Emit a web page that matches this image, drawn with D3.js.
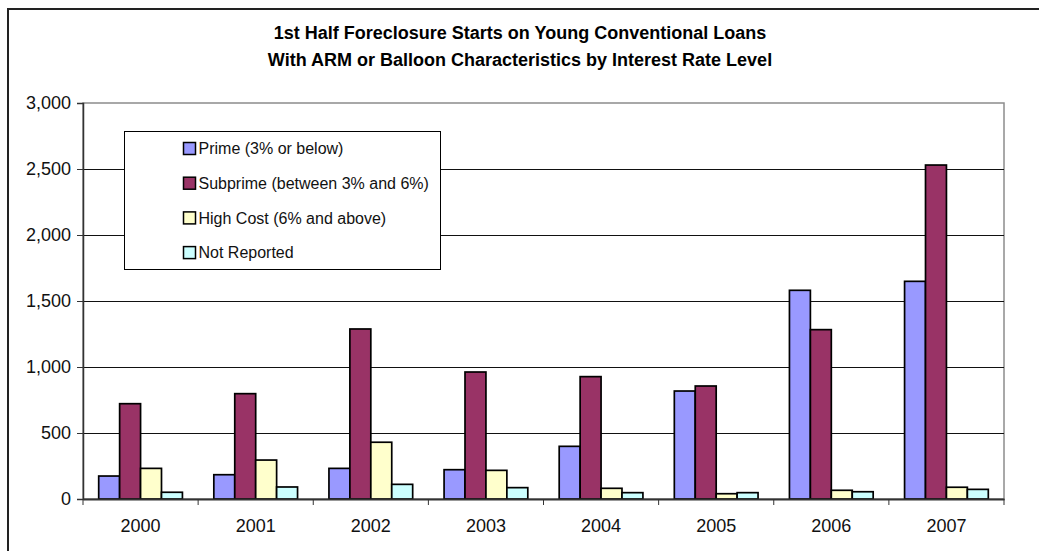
<!DOCTYPE html>
<html>
<head>
<meta charset="utf-8">
<script src="https://cdn.jsdelivr.net/npm/d3@7"></script>
<style>
  body { margin: 0; background: #fff; }
  svg { display: block; font-family: "Liberation Sans", Arial, sans-serif; }
</style>
</head>
<body>
<script>
const titleLines = ['1st Half Foreclosure Starts on Young Conventional Loans',
  'With ARM or Balloon Characteristics by Interest Rate Level']

const years = ['2000', '2001', '2002', '2003', '2004', '2005', '2006', '2007']
const seriesNames = ['Prime (3% or below)', 'Subprime (between 3% and 6%)', 'High Cost (6% and above)', 'Not Reported']
const seriesColors = ['#9999ff', '#993366', '#ffffcc', '#ccffff']

const prime = [174, 184, 232, 222, 399, 818, 1581, 1649]
const subprime = [722, 798, 1288, 962, 927, 856, 1283, 2530]
const highCost = [232, 295, 430, 217, 81, 40, 66, 89]
const notReported = [51, 91, 111, 86, 48, 48, 55, 73]
const yTicks = [0, 500, 1000, 1500, 2000, 2500, 3000]

const seriesValues = [prime, subprime, highCost, notReported]

const width = 1039
const height = 551
const margin = { top: 103, right: 35, bottom: 52, left: 83 }
const innerWidth = width - margin.left - margin.right
const innerHeight = height - margin.top - margin.bottom

const svg = d3.select('body').append('svg')
  .attr('width', width)
  .attr('height', height)

// outer chart frame (runs off the right and bottom of the picture)
svg.append('rect')
  .attr('x', 8).attr('y', 9)
  .attr('width', 1100).attr('height', 1000)
  .attr('fill', 'none')
  .attr('stroke', '#222')
  .attr('stroke-width', 2)

// title
svg.append('g')
  .selectAll('text')
  .data(titleLines)
  .enter()
  .append('text')
  .attr('x', 520)
  .attr('y', (d, i) => 39 + i * 27)
  .attr('text-anchor', 'middle')
  .attr('font-size', 18)
  .attr('font-weight', 'bold')
  .text(d => d)

const main = svg.append('g')
  .attr('transform', `translate(${margin.left}, ${margin.top})`)

const x = d3.scaleBand()
  .domain(years)
  .range([0, innerWidth])

const step = x.bandwidth()
const barW = step / 5.5

const x1 = d3.scaleBand()
  .domain(d3.range(seriesNames.length))
  .range([barW * 0.75, step - barW * 0.75])

const y = d3.scaleLinear()
  .domain([0, 3000])
  .range([innerHeight, 0])

// plot area border
main.append('rect')
  .attr('width', innerWidth)
  .attr('height', innerHeight)
  .attr('fill', 'none')
  .attr('stroke', '#8c8c8c')
  .attr('stroke-width', 1.5)

// gridlines
main.append('g')
  .selectAll('line')
  .data(yTicks.filter(d => d > 0 && d < 3000))
  .enter()
  .append('line')
  .attr('x1', 0)
  .attr('x2', innerWidth)
  .attr('y1', d => Math.round(y(d)) + 0.5)
  .attr('y2', d => Math.round(y(d)) + 0.5)
  .attr('stroke', '#111')
  .attr('stroke-width', 1)

// bars
const table = years.map((yr, i) => ({ year: yr, values: seriesValues.map(s => s[i]) }))

main.append('g')
  .selectAll('g')
  .data(table)
  .enter()
  .append('g')
  .attr('transform', d => `translate(${x(d.year)}, 0)`)
  .selectAll('rect')
  .data(d => d.values.map((v, k) => ({ k, v })))
  .enter()
  .append('rect')
  .attr('x', d => x1(d.k))
  .attr('y', d => y(d.v))
  .attr('width', x1.bandwidth())
  .attr('height', d => y(0) - y(d.v))
  .attr('fill', d => seriesColors[d.k])
  .attr('stroke', '#000')
  .attr('stroke-width', 1.7)

// y axis
const yAxis = d3.axisLeft(y)
  .tickValues(yTicks)
  .tickSize(6)
  .tickPadding(6)
  .tickFormat(d3.format(','))

const yG = main.append('g').call(yAxis)
yG.select('.domain').attr('stroke', '#333').attr('stroke-width', 1.5)
yG.selectAll('.tick line').attr('stroke', '#333')
yG.selectAll('text').attr('font-size', 18).attr('font-family', '"Liberation Sans", Arial, sans-serif').attr('fill', '#111')

// x axis
const xG = main.append('g')
  .attr('transform', `translate(0, ${innerHeight})`)
  .call(d3.axisBottom(x).tickSize(0).tickPadding(20))
xG.select('.domain').attr('stroke', '#333').attr('stroke-width', 2)
xG.selectAll('text').attr('font-size', 18).attr('font-family', '"Liberation Sans", Arial, sans-serif').attr('fill', '#111')

// category separators on x axis
xG.append('g')
  .selectAll('line')
  .data(d3.range(years.length + 1))
  .enter()
  .append('line')
  .attr('x1', i => i * step)
  .attr('x2', i => i * step)
  .attr('y1', 0)
  .attr('y2', 6)
  .attr('stroke', '#333')

// legend
const legend = svg.append('g')
  .attr('transform', 'translate(124.5, 131.5)')

legend.append('rect')
  .attr('width', 316)
  .attr('height', 138)
  .attr('fill', '#fff')
  .attr('stroke', '#000')

const items = legend.selectAll('g.item')
  .data(seriesNames)
  .enter()
  .append('g')
  .attr('class', 'item')
  .attr('transform', (d, i) => `translate(59, ${17 + i * 34.7})`)

items.append('rect')
  .attr('x', 0)
  .attr('y', -6)
  .attr('width', 12)
  .attr('height', 12)
  .attr('fill', (d, i) => seriesColors[i])
  .attr('stroke', '#000')
  .attr('stroke-width', 1.5)

items.append('text')
  .attr('x', 15)
  .attr('y', 0)
  .attr('dy', '0.36em')
  .attr('font-size', 16)
  .attr('fill', '#111')
  .text(d => d)
</script>
</body>
</html>
